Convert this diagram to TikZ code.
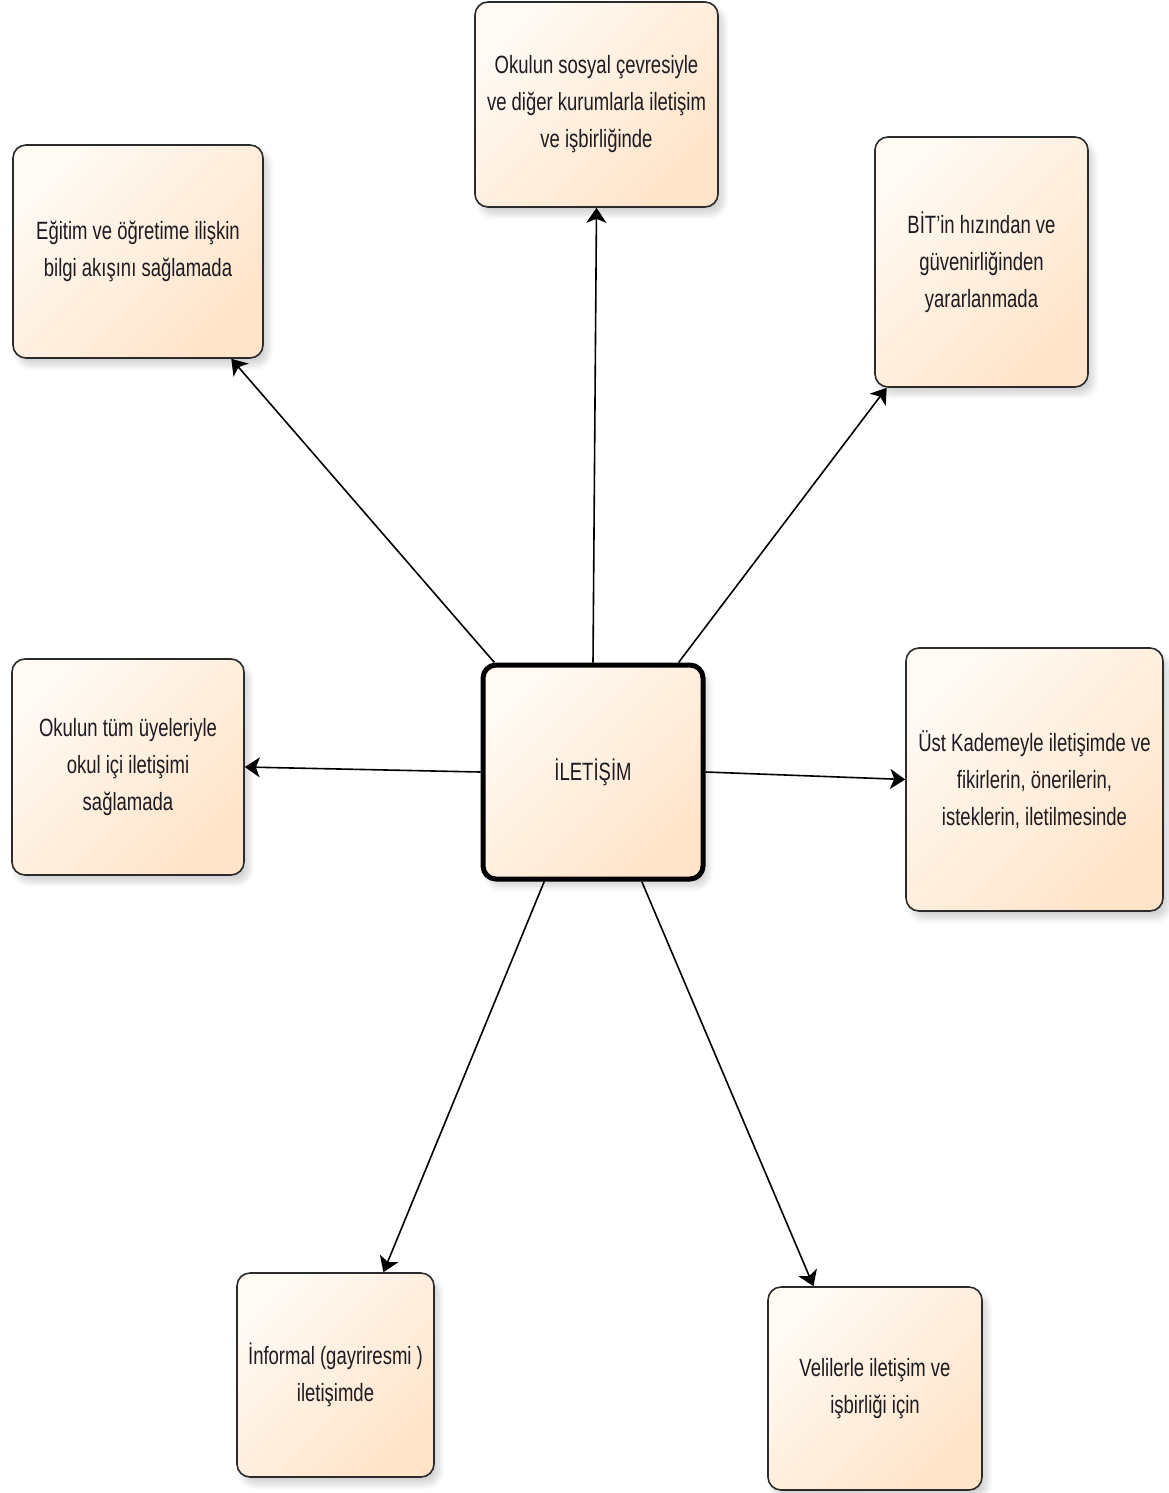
\documentclass[tikz,border=0pt]{standalone}
\usepackage{fontspec}
\setmainfont{Liberation Sans}[FakeStretch=0.74]
\usetikzlibrary{arrows.meta,shadows.blur}
\definecolor{cajaclara}{HTML}{FFFAF4}
\definecolor{cajaoscura}{HTML}{FFE4C9}
\definecolor{borde}{HTML}{2B2B2B}
\definecolor{texto}{HTML}{1E1B20}
\tikzset{
	caja/.style={draw=borde, line width=1.6pt, rounded corners=13pt,
		top color=cajaclara, bottom color=cajaoscura, shading angle=45,
		align=center, text=texto, inner sep=0pt,
		font=\fontsize{25}{37}\selectfont,
		blur shadow={shadow xshift=5pt, shadow yshift=-7pt, shadow blur steps=10, shadow blur radius=6pt, shadow opacity=18}},
	centro/.style={caja, draw=black, line width=5pt},
	flecha/.style={-{Stealth[length=15pt,width=20pt,inset=4pt]}, line width=1.6pt, black},
}

\begin{document}
\begin{tikzpicture}[x=1pt,y=-1pt]
		\useasboundingbox (0,0) rectangle (1168,1493);
		% cajas
		\node[centro, minimum width=220pt, minimum height=214pt] (iletisim) at (593,772) {İLETİŞİM};
		\node[caja, minimum width=243pt, minimum height=205pt] (sosyal) at (596.5,104.5) {Okulun sosyal çevresiyle\\ve diğer kurumlarla iletişim\\ve işbirliğinde};
		\node[caja, minimum width=250pt, minimum height=213pt] (egitim) at (138,251.5) {Eğitim ve öğretime ilişkin\\bilgi akışını sağlamada};
		\node[caja, minimum width=213pt, minimum height=250pt] (bit) at (981.5,262) {BİT'in hızından ve\\güvenirliğinden\\yararlanmada};
		\node[caja, minimum width=232pt, minimum height=216pt] (okulici) at (128,767) {Okulun tüm üyeleriyle\\okul içi iletişimi\\sağlamada};
		\node[caja, minimum width=257pt, minimum height=263pt] (kademe) at (1034.5,779.5) {Üst Kademeyle iletişimde ve\\fikirlerin, önerilerin,\\isteklerin, iletilmesinde};
		\node[caja, minimum width=197pt, minimum height=204pt] (informal) at (335.5,1375) {İnformal (gayriresmi )\\iletişimde};
		\node[caja, minimum width=214pt, minimum height=203pt] (veli) at (875,1388.5) {Velilerle iletişim ve\\işbirliği için};
		% flechas
		\draw[flecha] (iletisim.north) -- (sosyal.south);
		\draw[flecha] (iletisim.132) -- (egitim.311);
		\draw[flecha] (iletisim.52) -- (bit.233);
		\draw[flecha] (iletisim.west) -- (okulici.east);
		\draw[flecha] (iletisim.east) -- (kademe.west);
		\draw[flecha] (iletisim.246) -- (informal.65);
		\draw[flecha] (iletisim.294) -- (veli.121);
\end{tikzpicture}
\end{document}
